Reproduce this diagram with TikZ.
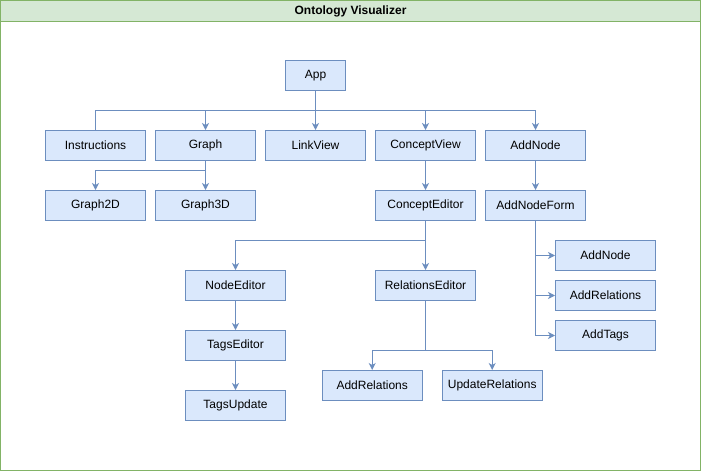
\documentclass[tikz,border=0pt]{standalone}
\usepackage{fontspec}
\setmainfont{Liberation Sans}
\usepackage{tikz}
\usetikzlibrary{positioning,calc,arrows.meta}
\definecolor{boxfill}{HTML}{DAE8FC}
\definecolor{boxline}{HTML}{6C8EBF}
\definecolor{hdrfill}{HTML}{D5E8D4}
\definecolor{hdrline}{HTML}{82B366}

\begin{document}
\begin{tikzpicture}[
  x=1pt, y=-1pt,
  font=\fontsize{12}{14}\selectfont,
  comp/.style={draw=boxline, fill=boxfill, line width=1pt, minimum width=100pt,
               minimum height=30pt, inner sep=0pt, align=center},
  ln/.style={draw=boxline, line width=1pt},
  fl/.style={ln, -{Stealth[length=7pt, width=7pt, inset=2pt]}},
]
  \useasboundingbox (-0.5,-0.5) rectangle (700.5,470.5);

  %=================== frame + header ===================
  \draw[hdrline, line width=1pt] (0,0) rectangle (700,470);
  \draw[hdrline, fill=hdrfill, line width=1pt] (0,0) rectangle (700,21);
  \node[font=\fontsize{12}{14}\selectfont\bfseries] (title) at (350,10.5) {Ontology Visualizer};

  %=================== top level ===================
  \node[comp, minimum width=60pt] (app) at (315,75) {App};
  \node[comp] (instr)       at (95,145)  {Instructions};
  \node[comp] (graph)       at (205,145) {Graph};
  \node[comp] (linkview)    at (315,145) {LinkView};
  \node[comp] (conceptview) at (425,145) {ConceptView};
  \node[comp] (addnode)     at (535,145) {AddNode};
  \coordinate (appbus) at (315,110);
  \draw[ln] (app.south) -- (appbus) -| (instr.north);
  \draw[fl] (app.south) -- (appbus) -| (graph.north);
  \draw[fl] (app.south) -- (linkview.north);
  \draw[fl] (app.south) -- (appbus) -| (conceptview.north);
  \draw[fl] (app.south) -- (appbus) -| (addnode.north);

  %=================== graph branch ===================
  \node[comp] (graph2d) at (95,205)  {Graph2D};
  \node[comp] (graph3d) at (205,205) {Graph3D};
  \coordinate (graphbus) at (205,170);
  \draw[fl] (graph.south) -- (graphbus) -| (graph2d.north);
  \draw[fl] (graph.south) -- (graph3d.north);

  %=================== concept branch ===================
  \node[comp] (concepted) at (425,205) {ConceptEditor};
  \draw[fl] (conceptview.south) -- (concepted.north);

  \node[comp] (nodeed)  at (235,285) {NodeEditor};
  \node[comp] (relsed)  at (425,285) {RelationsEditor};
  \coordinate (conceptbus) at (425,240);
  \draw[fl] (concepted.south) -- (conceptbus) -| (nodeed.north);
  \draw[fl] (concepted.south) -- (relsed.north);

  \node[comp] (tagsed)  at (235,345) {TagsEditor};
  \node[comp] (tagsupd) at (235,405) {TagsUpdate};
  \draw[fl] (nodeed.south) -- (tagsed.north);
  \draw[fl] (tagsed.south) -- (tagsupd.north);

  \node[comp] (addrels) at (371.7,385) {AddRelations};
  \node[comp] (updrels) at (491.7,385) {UpdateRelations};
  \coordinate (relsbus) at (425,350);
  \draw[fl] (relsed.south) -- (relsbus) -| (addrels.north);
  \draw[fl] (relsed.south) -- (relsbus) -| (updrels.north);

  %=================== add node branch ===================
  \node[comp] (addnodeform) at (535,205) {AddNodeForm};
  \draw[fl] (addnode.south) -- (addnodeform.north);

  \node[comp] (formnode) at (605,255) {AddNode};
  \node[comp] (formrels) at (605,295) {AddRelations};
  \node[comp] (formtags) at (605,335) {AddTags};
  \draw[fl] (addnodeform.south) |- (formnode.west);
  \draw[fl] (addnodeform.south) |- (formrels.west);
  \draw[fl] (addnodeform.south) |- (formtags.west);
\end{tikzpicture}
\end{document}
